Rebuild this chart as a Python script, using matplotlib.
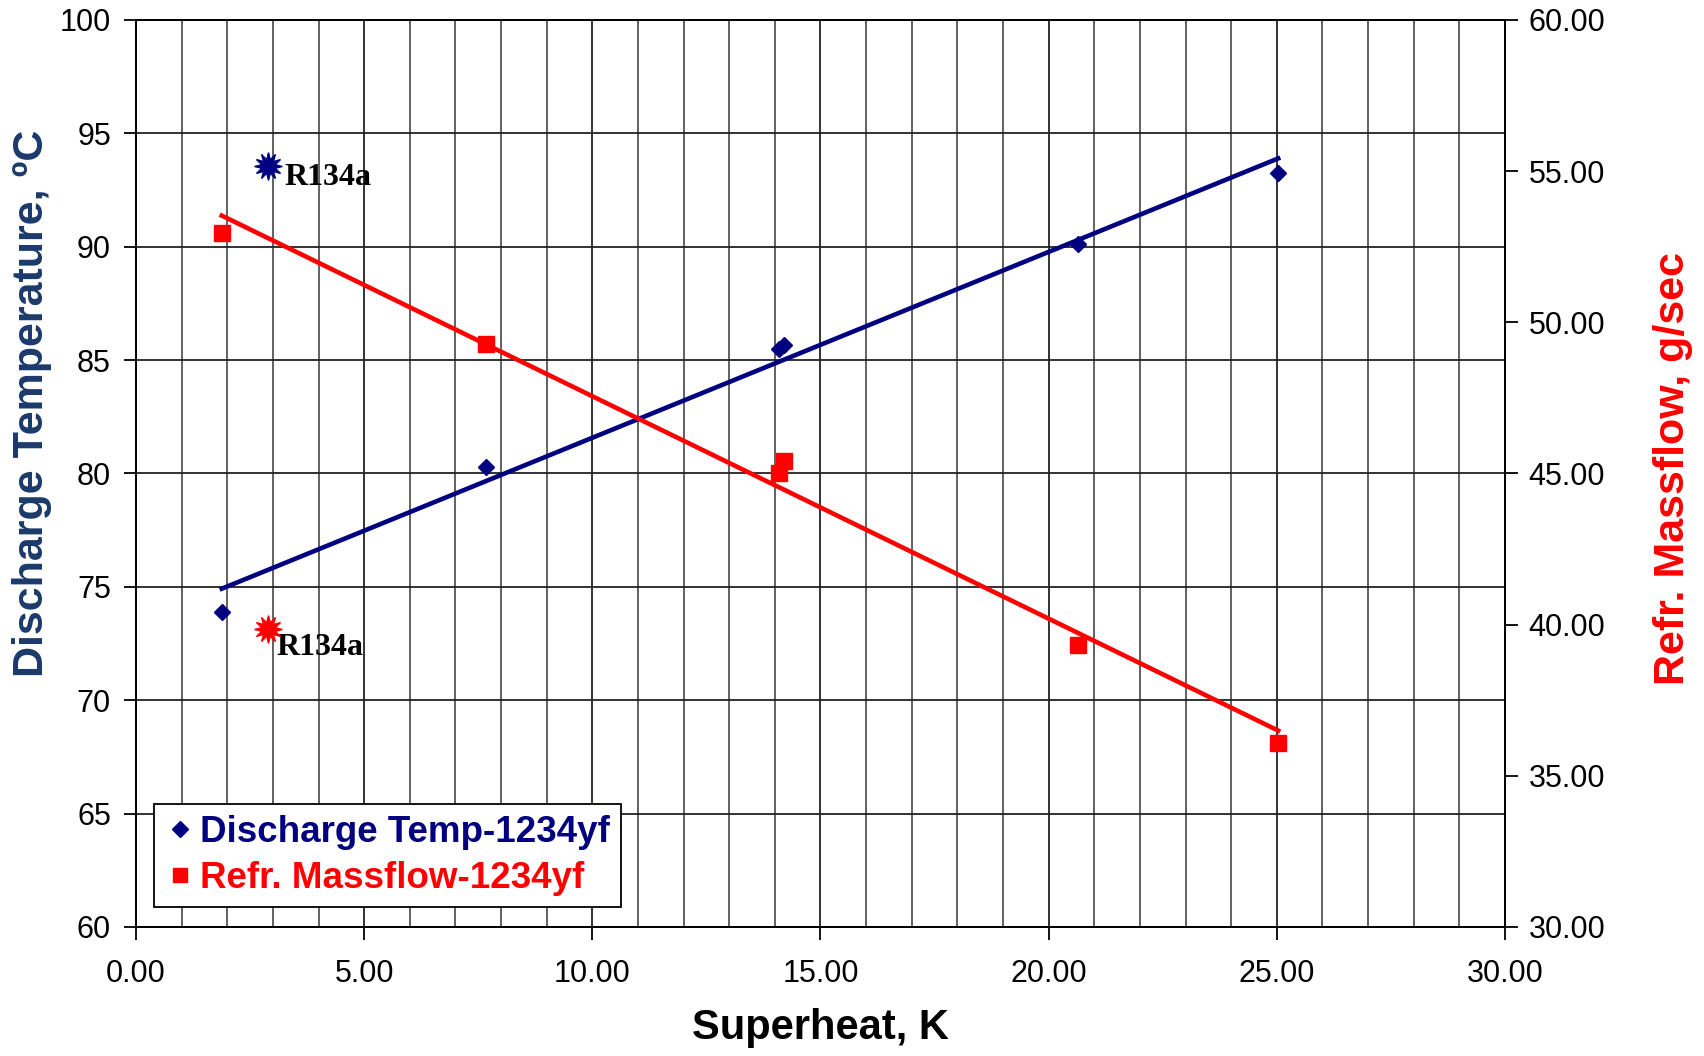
import numpy as np
import matplotlib.pyplot as plt
from matplotlib.ticker import MultipleLocator, FormatStrFormatter
from matplotlib.lines import Line2D

plt.rcParams['font.family'] = ['Liberation Sans', 'DejaVu Sans']

# data
superheat = [1.88, 7.66, 14.09, 14.2, 20.65, 25.03]
disch_temp = [73.9, 80.3, 85.5, 85.65, 90.12, 93.24]
massflow = [52.95, 49.28, 45.0, 45.4, 39.32, 36.08]

r134a_superheat = 2.9
r134a_temp = 93.55
r134a_flow = 39.86

navy = '#000080'
red = '#FF0000'

fig = plt.figure(figsize=(17.04, 10.56), dpi=100)
ax = fig.add_axes([0.0798, 0.1222, 0.8034, 0.8589])
ax2 = ax.twinx()

# trend lines (linear fit)
xs = np.array([superheat[0], superheat[-1]])
p1 = np.polyfit(superheat, disch_temp, 1)
p2 = np.polyfit(superheat, massflow, 1)
ax.plot(xs, np.polyval(p1, xs), color=navy, lw=3.3, zorder=3)
ax2.plot(xs, np.polyval(p2, xs), color=red, lw=3.3, zorder=3)

ax.plot(superheat, disch_temp, 'D', color=navy, ms=8, zorder=4)
ax2.plot(superheat, massflow, 's', color=red, ms=11, zorder=4)

# R134a reference points
ax.plot(r134a_superheat, r134a_temp, marker=(12, 1, 0), color=navy, ms=20, ls='none', zorder=4)
ax2.plot(r134a_superheat, r134a_flow, marker=(12, 1, 0), color=red, ms=20, ls='none', zorder=4)
ax.annotate('R134a', (r134a_superheat, r134a_temp), xytext=(16, -11), textcoords='offset pixels',
            va='center', ha='left', fontsize=23, fontweight='bold', family='Liberation Serif')
ax2.annotate('R134a', (r134a_superheat, r134a_flow), xytext=(8, -19), textcoords='offset pixels',
             va='center', ha='left', fontsize=23, fontweight='bold', family='Liberation Serif')

ax.set_xlim(0, 30)
ax.set_ylim(60, 100)
ax2.set_ylim(30, 60)
ax.xaxis.set_major_locator(MultipleLocator(5))
ax.xaxis.set_minor_locator(MultipleLocator(1))
ax.yaxis.set_major_locator(MultipleLocator(5))
ax2.yaxis.set_major_locator(MultipleLocator(5))
ax.xaxis.set_major_formatter(FormatStrFormatter('%.2f'))
ax2.yaxis.set_major_formatter(FormatStrFormatter('%.2f'))

ax.grid(which='major', axis='both', color='#222222', lw=1.3)
ax.grid(which='minor', axis='x', color='#555555', lw=1.3)
ax.set_axisbelow(True)
ax.tick_params(which='major', length=9, width=1.3, labelsize=22, pad=6)
ax.tick_params(axis='y', pad=9)
ax.tick_params(axis='x', pad=14)
ax.tick_params(which='minor', length=0)
ax2.tick_params(which='major', length=9, width=1.3, labelsize=22, pad=8)
for a in (ax, ax2):
    for s in a.spines.values():
        s.set_linewidth(1.3)

ax.set_xlabel('Superheat, K', fontsize=30, fontweight='bold', labelpad=14)
ax.set_ylabel('Discharge Temperature, ºC', fontsize=31, fontweight='bold', color='#1B3A6B')
ax.yaxis.set_label_coords(-0.061, 0.577)
ax2.set_ylabel('Refr. Massflow, g/sec', fontsize=31, fontweight='bold', color=red)
ax2.yaxis.set_label_coords(1.108, 0.505)

handles = [Line2D([], [], marker='D', color=navy, ls='none', ms=8),
           Line2D([], [], marker='s', color=red, ls='none', ms=10)]
leg = ax2.legend(handles, ['Discharge Temp-1234yf', 'Refr. Massflow-1234yf'],
                 loc='lower left', bbox_to_anchor=(0.013, 0.022),
                 prop={'weight': 'bold', 'size': 26.5}, fancybox=False, framealpha=1,
                 edgecolor='black', handletextpad=0.15, handlelength=0.8,
                 borderpad=0.3, labelspacing=0.3, borderaxespad=0)
leg.get_frame().set_linewidth(1.3)
leg.get_texts()[0].set_color(navy)
leg.get_texts()[1].set_color(red)

fig.savefig('out.png', dpi=100)
